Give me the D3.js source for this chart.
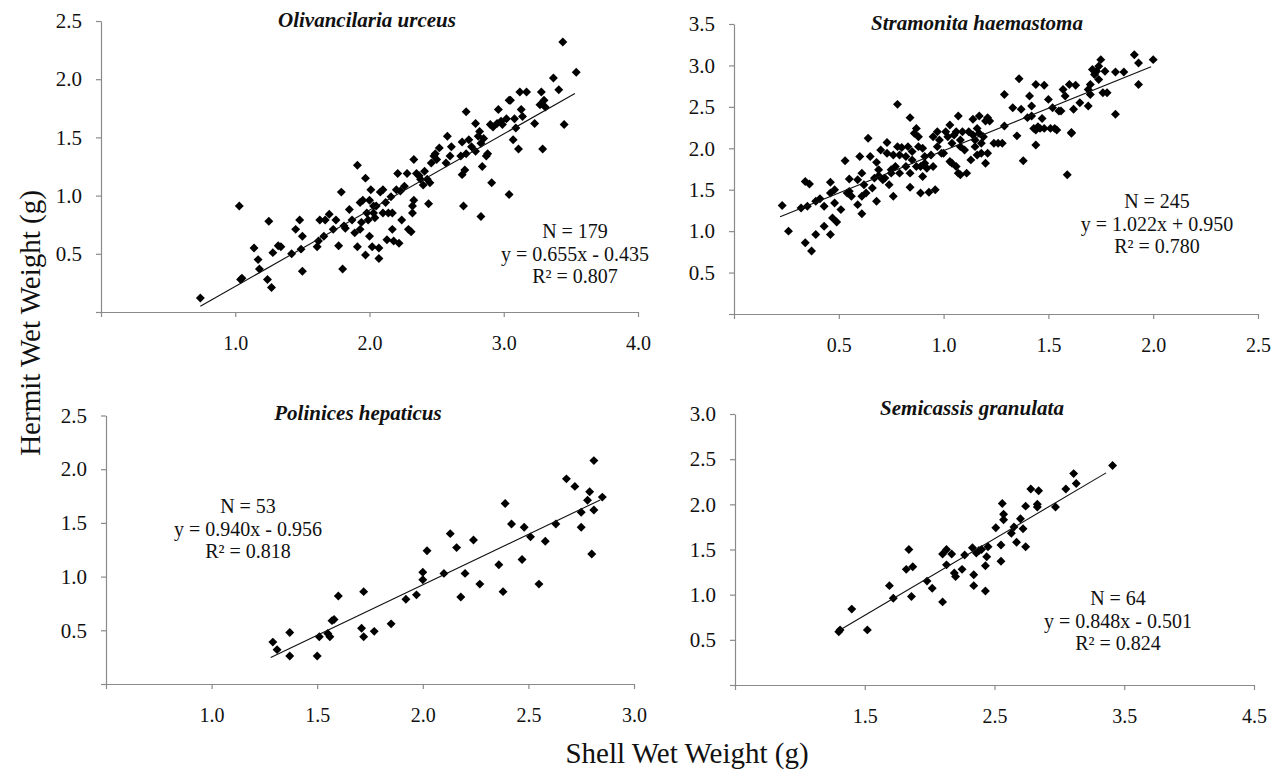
<!DOCTYPE html>
<html>
<head>
<meta charset="utf-8">
<script src="https://cdn.jsdelivr.net/npm/d3@7"></script>
<style>
  body { margin: 0; background: #fff; }
  svg { display: block; }
  .axis path, .axis line { stroke: #8a8a8a; stroke-width: 1.2; }
</style>
</head>
<body>
<svg id="chart" width="1282" height="774"></svg>
<script>
// Puntos [peso concha, peso ermitaño]
const olivancilariaPts = [
  [0.74,0.12],[1.03,0.91],[1.04,0.28],[1.05,0.29],[1.14,0.55],[1.17,0.45],[1.18,0.37],[1.24,0.28],
  [1.25,0.78],[1.27,0.21],[1.28,0.51],[1.32,0.57],[1.34,0.56],[1.42,0.50],[1.45,0.71],[1.48,0.79],
  [1.49,0.54],[1.50,0.65],[1.50,0.35],[1.61,0.56],[1.62,0.61],[1.63,0.79],[1.66,0.65],[1.67,0.79],
  [1.70,0.84],[1.73,0.71],[1.75,0.79],[1.77,0.57],[1.79,1.03],[1.80,0.37],[1.81,0.74],[1.82,0.72],
  [1.85,0.88],[1.87,0.79],[1.89,0.68],[1.91,1.26],[1.91,0.56],[1.93,0.71],[1.93,0.94],[1.94,0.77],
  [1.95,0.96],[1.97,0.49],[1.97,1.15],[1.98,0.85],[1.99,0.79],[2.00,0.65],[2.00,0.96],[2.01,1.05],
  [2.02,0.56],[2.03,0.85],[2.03,0.91],[2.04,0.81],[2.05,0.91],[2.07,0.55],[2.07,0.46],[2.08,1.03],
  [2.10,0.85],[2.10,1.05],[2.12,0.94],[2.13,0.62],[2.14,0.85],[2.16,0.99],[2.17,0.71],[2.17,0.85],
  [2.18,0.61],[2.20,1.05],[2.21,1.19],[2.22,0.59],[2.23,1.04],[2.24,0.79],[2.26,1.08],[2.28,1.19],
  [2.29,0.71],[2.31,0.69],[2.32,0.91],[2.32,0.85],[2.33,0.96],[2.33,1.31],[2.35,1.19],[2.37,1.17],
  [2.38,1.14],[2.40,1.09],[2.41,1.21],[2.43,1.14],[2.44,0.93],[2.45,1.11],[2.46,1.28],[2.48,1.34],
  [2.49,1.36],[2.50,1.31],[2.52,1.41],[2.57,1.28],[2.58,1.51],[2.60,1.34],[2.61,1.42],[2.68,1.34],
  [2.69,1.46],[2.69,1.18],[2.70,0.91],[2.71,1.22],[2.72,1.72],[2.72,1.36],[2.74,1.48],[2.76,1.42],
  [2.79,1.62],[2.79,1.38],[2.81,1.51],[2.82,1.55],[2.83,1.45],[2.83,0.82],[2.84,1.25],[2.85,1.49],
  [2.87,1.34],[2.88,1.36],[2.90,1.61],[2.91,1.11],[2.92,1.59],[2.95,1.62],[2.96,1.74],[2.98,1.64],
  [2.99,1.61],[3.02,1.66],[3.04,1.01],[3.04,1.82],[3.05,1.82],[3.07,1.48],[3.08,1.66],[3.09,1.58],
  [3.11,1.40],[3.12,1.89],[3.13,1.74],[3.14,1.68],[3.17,1.89],[3.23,1.62],[3.27,1.78],[3.28,1.89],
  [3.29,1.40],[3.30,1.82],[3.31,1.76],[3.37,2.01],[3.41,1.91],[3.44,2.32],[3.45,1.61],[3.54,2.06]
];

const stramonitaPts = [
  [0.23,1.31],[0.26,1.00],[0.32,1.28],[0.34,0.86],[0.34,1.60],[0.35,1.30],[0.36,1.57],[0.37,0.76],
  [0.39,0.96],[0.39,1.36],[0.41,1.39],[0.43,1.30],[0.43,1.06],[0.46,1.59],[0.46,0.96],[0.46,1.46],
  [0.47,1.16],[0.48,1.34],[0.48,1.50],[0.49,1.11],[0.51,1.26],[0.53,1.85],[0.54,1.46],[0.55,1.63],
  [0.55,1.48],[0.56,1.42],[0.59,1.32],[0.59,1.62],[0.60,1.90],[0.61,1.21],[0.61,1.70],[0.61,1.42],
  [0.62,1.56],[0.63,1.46],[0.64,2.12],[0.65,1.90],[0.66,1.52],[0.67,1.64],[0.68,1.36],[0.68,1.83],
  [0.69,1.67],[0.69,1.74],[0.70,1.98],[0.71,1.62],[0.72,1.64],[0.73,2.07],[0.73,1.94],[0.74,1.56],
  [0.75,1.74],[0.75,1.70],[0.76,1.42],[0.76,1.92],[0.77,1.78],[0.78,2.02],[0.78,2.53],[0.79,1.70],
  [0.79,1.92],[0.80,2.01],[0.82,1.90],[0.82,1.78],[0.83,2.02],[0.84,1.70],[0.84,2.37],[0.84,1.53],
  [0.85,1.86],[0.85,1.96],[0.86,2.18],[0.87,1.78],[0.87,2.24],[0.88,2.02],[0.88,2.14],[0.89,1.78],
  [0.89,1.46],[0.90,1.66],[0.90,2.00],[0.91,1.90],[0.91,1.82],[0.92,1.76],[0.93,1.47],[0.94,1.92],
  [0.95,1.78],[0.95,2.14],[0.96,1.50],[0.97,2.02],[0.97,2.20],[0.98,2.10],[0.99,1.94],[1.00,1.94],
  [1.01,2.20],[1.02,2.14],[1.03,2.28],[1.03,1.84],[1.04,2.06],[1.04,1.82],[1.05,2.16],[1.06,1.78],
  [1.06,2.20],[1.07,1.70],[1.07,2.39],[1.08,2.10],[1.08,2.02],[1.08,1.68],[1.09,2.20],[1.10,1.98],
  [1.11,1.70],[1.12,2.20],[1.13,1.86],[1.14,2.16],[1.14,2.35],[1.15,2.10],[1.15,2.02],[1.16,2.24],
  [1.16,1.92],[1.17,2.39],[1.17,2.18],[1.18,2.06],[1.18,1.94],[1.19,2.14],[1.20,1.82],[1.20,2.33],
  [1.21,1.94],[1.21,2.37],[1.22,2.33],[1.24,2.06],[1.26,2.06],[1.28,2.06],[1.29,2.65],[1.29,2.27],
  [1.33,2.49],[1.35,2.15],[1.36,2.84],[1.37,2.47],[1.38,1.85],[1.40,2.37],[1.41,2.63],[1.42,2.51],
  [1.42,2.39],[1.43,2.24],[1.44,2.04],[1.44,2.77],[1.44,2.22],[1.45,2.26],[1.46,2.24],[1.47,2.36],
  [1.48,2.76],[1.48,2.24],[1.50,2.59],[1.51,2.24],[1.52,2.49],[1.53,2.24],[1.54,2.22],[1.55,2.45],
  [1.56,2.45],[1.57,2.71],[1.58,2.63],[1.59,1.68],[1.60,2.77],[1.61,2.18],[1.61,2.19],[1.62,2.47],
  [1.63,2.76],[1.65,2.55],[1.69,2.51],[1.69,2.71],[1.70,2.77],[1.70,2.65],[1.71,2.95],[1.72,2.89],
  [1.73,2.93],[1.74,2.83],[1.74,2.99],[1.75,3.07],[1.76,2.67],[1.77,2.93],[1.78,2.67],[1.82,2.92],
  [1.82,2.41],[1.86,2.92],[1.91,3.13],[1.93,3.03],[1.93,2.77],[2.00,3.07]
];

const polinicesPts = [
  [1.29,0.39],[1.31,0.32],[1.37,0.48],[1.37,0.26],[1.50,0.26],[1.51,0.44],[1.55,0.47],[1.56,0.44],
  [1.57,0.59],[1.58,0.60],[1.60,0.82],[1.71,0.52],[1.72,0.86],[1.72,0.44],[1.77,0.49],[1.85,0.56],
  [1.92,0.79],[1.97,0.83],[2.00,1.04],[2.00,0.97],[2.02,1.24],[2.10,1.03],[2.13,1.40],[2.16,1.27],
  [2.18,0.81],[2.20,1.03],[2.24,1.34],[2.27,0.93],[2.36,1.11],[2.38,0.86],[2.39,1.68],[2.42,1.49],
  [2.47,1.16],[2.48,1.46],[2.51,1.37],[2.55,0.93],[2.58,1.33],[2.63,1.49],[2.68,1.91],[2.72,1.84],
  [2.75,1.60],[2.75,1.46],[2.78,1.71],[2.79,1.79],[2.80,1.21],[2.81,2.08],[2.81,1.62],[2.85,1.74]
];

const semicassisPts = [
  [1.30,0.59],[1.31,0.61],[1.40,0.84],[1.52,0.61],[1.69,1.10],[1.72,0.96],[1.82,1.28],[1.84,1.50],
  [1.86,0.98],[1.87,1.31],[1.98,1.15],[2.02,1.07],[2.10,1.45],[2.10,0.92],[2.13,1.50],[2.13,1.33],
  [2.17,1.45],[2.19,1.24],[2.20,1.20],[2.25,1.28],[2.27,1.44],[2.33,1.52],[2.34,1.22],[2.34,1.10],
  [2.36,1.46],[2.38,1.49],[2.40,1.50],[2.43,1.04],[2.43,1.32],[2.44,1.42],[2.45,1.53],[2.51,1.74],
  [2.55,1.55],[2.55,1.37],[2.56,2.01],[2.57,1.89],[2.57,1.83],[2.63,1.68],[2.65,1.75],[2.67,1.58],
  [2.70,1.84],[2.72,1.73],[2.74,1.98],[2.74,1.53],[2.78,2.17],[2.83,2.00],[2.83,1.97],[2.84,2.15],
  [2.97,1.97],[3.05,2.17],[3.11,2.34],[3.13,2.23],[3.41,2.43]
];

// Rectas de regresion [pendiente, intercepto] y tramo x dibujado
const olivancilariaFit = [0.655, -0.435], olivancilariaSpan = [0.74, 3.53];
const stramonitaFit = [1.022, 0.950], stramonitaSpan = [0.22, 1.99];
const polinicesFit = [0.940, -0.956], polinicesSpan = [1.28, 2.84];
const semicassisFit = [0.848, -0.501], semicassisSpan = [1.315, 3.36];

const olivancilariaStats = ["N = 179", "y = 0.655x - 0.435", "R² = 0.807"];
const stramonitaStats = ["N = 245", "y = 1.022x + 0.950", "R² = 0.780"];
const polinicesStats = ["N = 53", "y = 0.940x - 0.956", "R² = 0.818"];
const semicassisStats = ["N = 64", "y = 0.848x - 0.501", "R² = 0.824"];

const olivancilariaXTicks = [0, 1, 2, 3, 4];
const stramonitaXTicks = [0, 0.5, 1, 1.5, 2, 2.5];
const polinicesXTicks = [0.5, 1, 1.5, 2, 2.5, 3];
const semicassisXTicks = [0.5, 1.5, 2.5, 3.5, 4.5];
const yTicks25 = [0, 0.5, 1, 1.5, 2, 2.5];
const yTicks30 = [0, 0.5, 1, 1.5, 2, 2.5, 3];
const yTicks35 = [0, 0.5, 1, 1.5, 2, 2.5, 3, 3.5];

const SERIF = '"Liberation Serif", "Times New Roman", "DejaVu Serif", serif';

const svg = d3.select("#chart");
svg.append("rect").attr("width", 1282).attr("height", 774).attr("fill", "#fff");

const fmt = d3.format(".1f");
const diamond = d3.symbol().type(d3.symbolSquare).size(40);

function drawPanel(p) {
  const x = d3.scaleLinear().domain(p.xDomain).range(p.xRange);
  const y = d3.scaleLinear().domain(p.yDomain).range(p.yRange);
  const g = svg.append("g");

  const xAxis = d3.axisBottom(x)
    .tickValues(p.xTicks)
    .tickSize(5).tickSizeOuter(0).tickPadding(19)
    .tickFormat((d, i) => i === 0 ? "" : fmt(d));
  g.append("g").attr("class", "axis")
    .attr("transform", `translate(0,${p.yRange[0]})`)
    .call(xAxis)
    .call(a => a.selectAll("text")
      .style("font-family", SERIF).style("font-size", "20px").attr("fill", "#111"));

  const yAxis = d3.axisLeft(y)
    .tickValues(p.yTicks)
    .tickSize(5).tickSizeOuter(0).tickPadding(14)
    .tickFormat((d, i) => i === 0 ? "" : fmt(d));
  g.append("g").attr("class", "axis")
    .attr("transform", `translate(${p.xRange[0]},0)`)
    .call(yAxis)
    .call(a => a.selectAll("text")
      .style("font-family", SERIF).style("font-size", "21px").attr("fill", "#111"));

  g.selectAll(".pt")
    .data(p.points)
    .enter().append("path")
    .attr("class", "pt")
    .attr("d", diamond)
    .attr("transform", d => `translate(${x(d[0])},${y(d[1])}) rotate(45)`)
    .attr("fill", "#000");

  const line = d3.line().x(d => x(d)).y(d => y(p.fit[0] * d + p.fit[1]));
  g.append("path")
    .datum(p.span)
    .attr("d", line)
    .attr("fill", "none")
    .attr("stroke", "#111")
    .attr("stroke-width", 1.1);

  g.append("text")
    .attr("x", p.titlePos[0]).attr("y", p.titlePos[1])
    .attr("text-anchor", "middle")
    .style("font-family", SERIF).style("font-size", "21px")
    .style("font-weight", "bold").style("font-style", "italic")
    .attr("fill", "#111")
    .text(p.title);

  g.selectAll(".stat")
    .data(p.stats)
    .enter().append("text")
    .attr("class", "stat")
    .attr("x", p.statPos[0])
    .attr("y", (d, i) => p.statPos[1] + i * 22.5)
    .attr("text-anchor", "middle")
    .style("font-family", SERIF).style("font-size", "20px")
    .attr("fill", "#111")
    .text(d => d);
}

drawPanel({
  title: "Olivancilaria urceus", titlePos: [367, 27],
  points: olivancilariaPts, fit: olivancilariaFit, span: olivancilariaSpan, stats: olivancilariaStats,
  statPos: [575, 238],
  xDomain: [0, 4], xRange: [101, 638], xTicks: olivancilariaXTicks,
  yDomain: [0, 2.5], yRange: [312, 21], yTicks: yTicks25
});

drawPanel({
  title: "Stramonita haemastoma", titlePos: [977, 30],
  points: stramonitaPts, fit: stramonitaFit, span: stramonitaSpan, stats: stramonitaStats,
  statPos: [1157, 208],
  xDomain: [0, 2.5], xRange: [734, 1258], xTicks: stramonitaXTicks,
  yDomain: [0, 3.5], yRange: [314, 24], yTicks: yTicks35
});

drawPanel({
  title: "Polinices hepaticus", titlePos: [358, 420],
  points: polinicesPts, fit: polinicesFit, span: polinicesSpan, stats: polinicesStats,
  statPos: [248, 513],
  xDomain: [0.5, 3.0], xRange: [106, 634], xTicks: polinicesXTicks,
  yDomain: [0, 2.5], yRange: [684, 415.5], yTicks: yTicks25
});

drawPanel({
  title: "Semicassis granulata", titlePos: [972, 415],
  points: semicassisPts, fit: semicassisFit, span: semicassisSpan, stats: semicassisStats,
  statPos: [1118, 605],
  xDomain: [0.5, 4.5], xRange: [735, 1254], xTicks: semicassisXTicks,
  yDomain: [0, 3.0], yRange: [685, 414], yTicks: yTicks30
});

// Titulos de ejes comunes
svg.append("text")
  .attr("x", 687).attr("y", 763)
  .attr("text-anchor", "middle")
  .style("font-family", SERIF).style("font-size", "29px").attr("fill", "#111")
  .text("Shell Wet Weight (g)");

svg.append("text")
  .attr("transform", "translate(40,323) rotate(-90)")
  .attr("text-anchor", "middle")
  .style("font-family", SERIF).style("font-size", "29px").attr("fill", "#111")
  .text("Hermit Wet Weight (g)");
</script>
</body>
</html>
